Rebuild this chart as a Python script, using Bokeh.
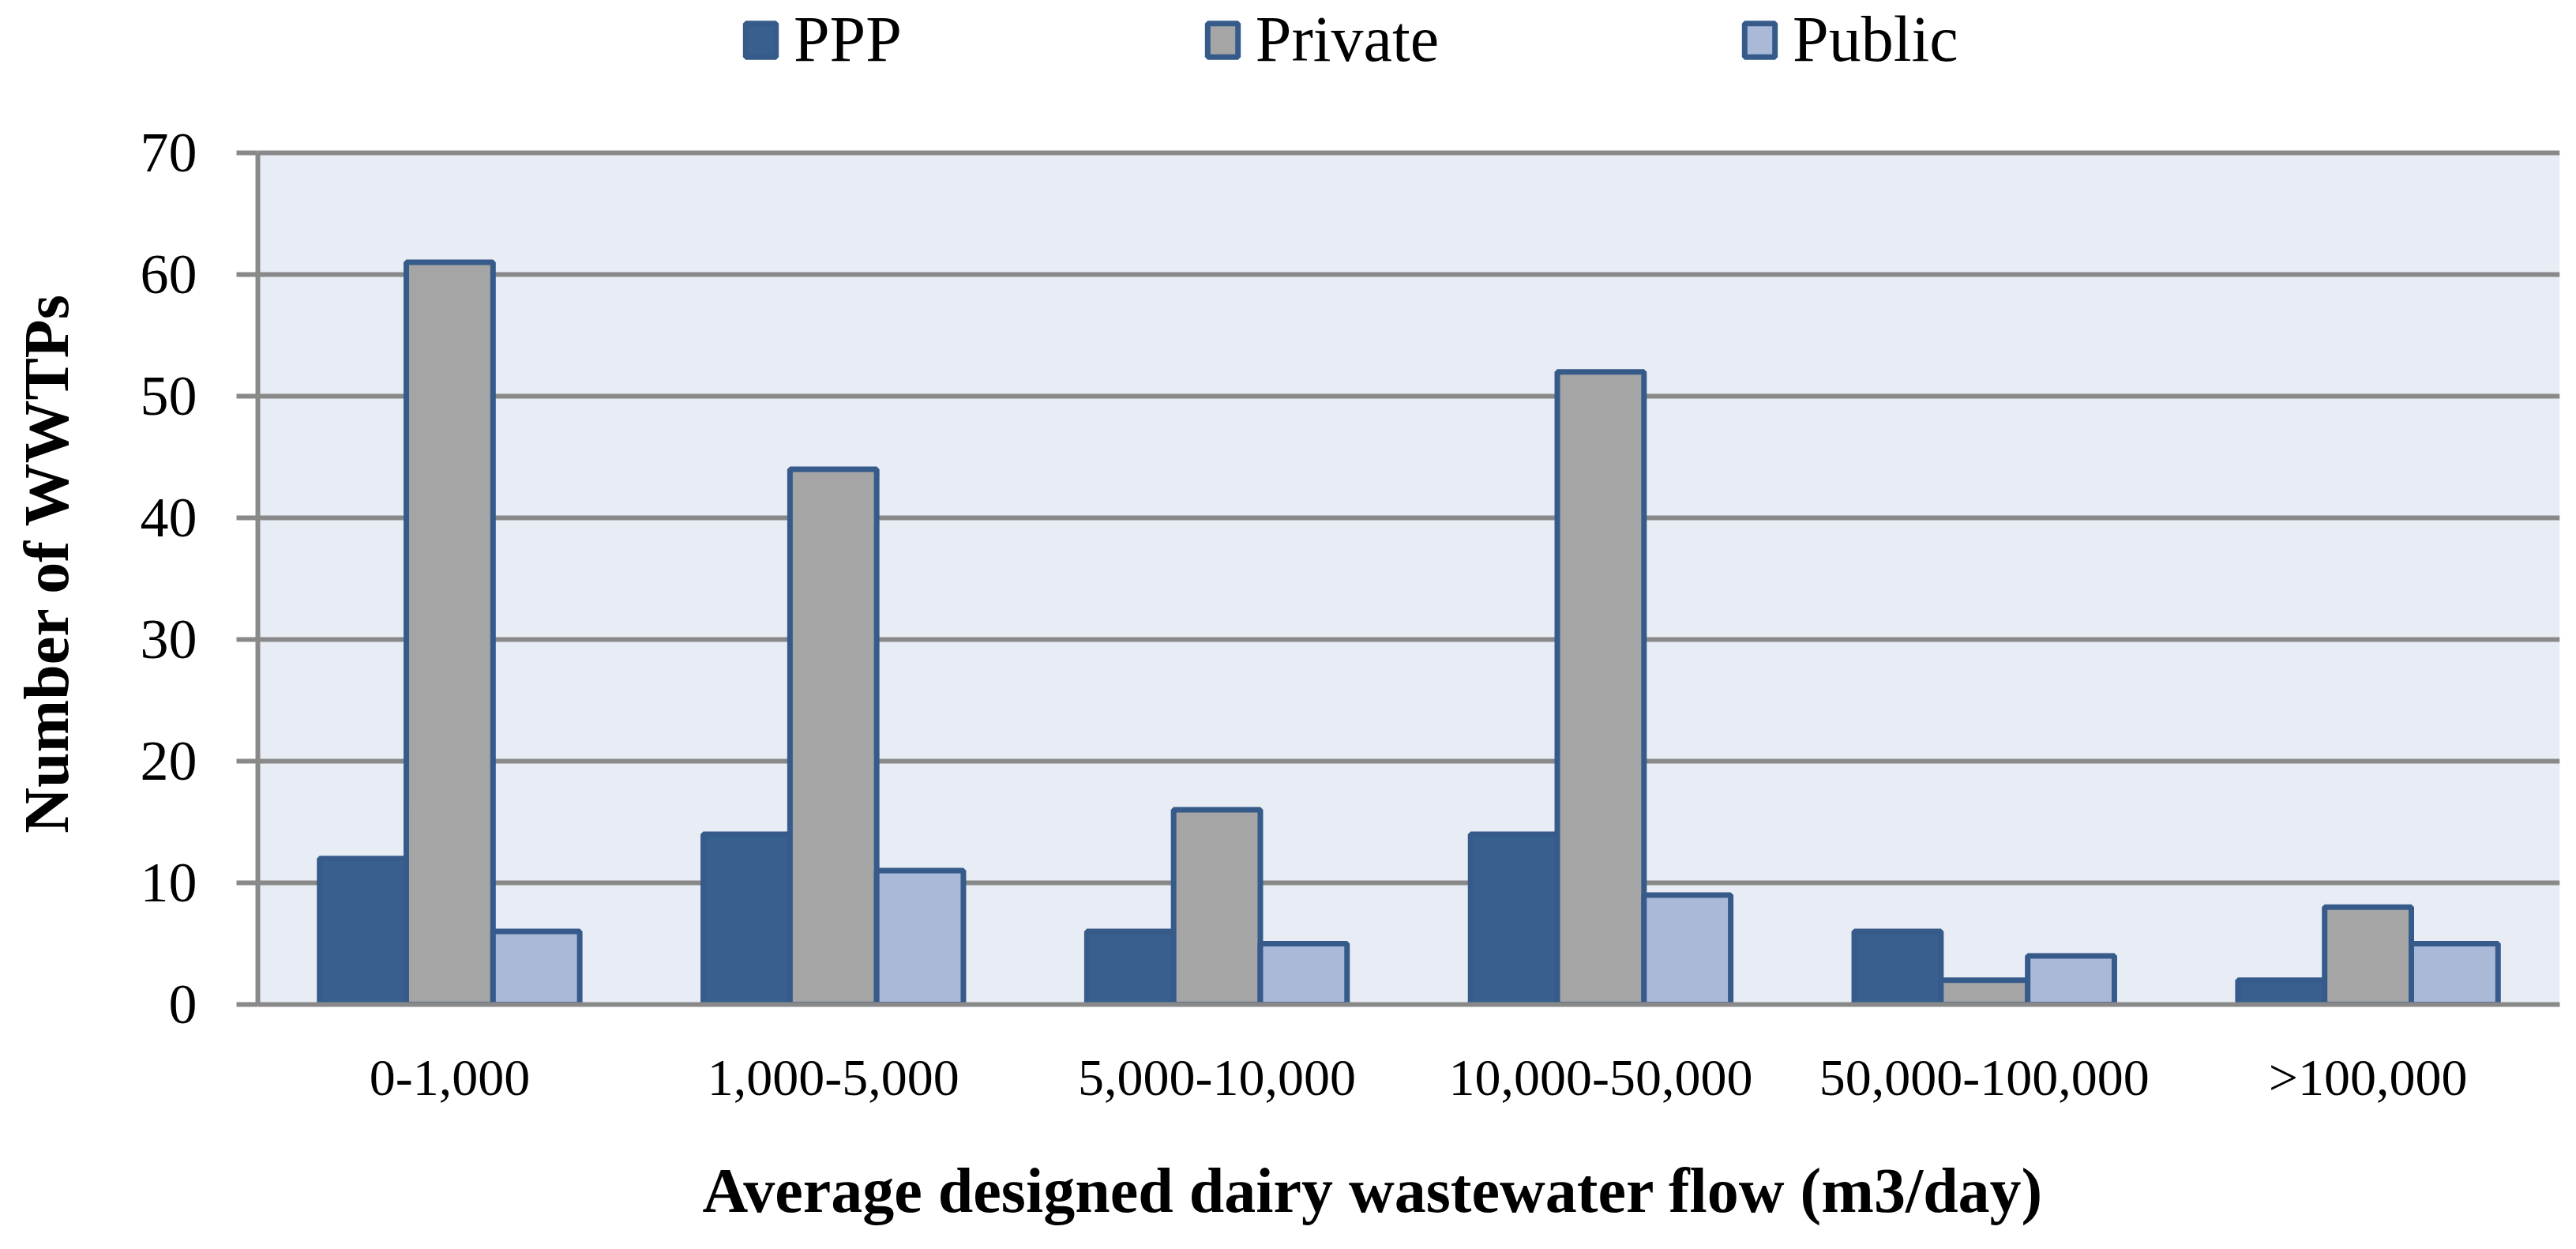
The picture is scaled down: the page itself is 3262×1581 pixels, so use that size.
from bokeh.plotting import figure
from bokeh.layouts import column
from bokeh.models import (ColumnDataSource, FactorRange, FixedTicker, Legend, LegendItem,
                          BoxAnnotation, Label)
from bokeh.transform import dodge
from bokeh.embed import file_html
from bokeh.resources import INLINE

categories = ["0-1,000", "1,000-5,000", "5,000-10,000", "10,000-50,000", "50,000-100,000", ">100,000"]
ppp = [12, 14, 6, 14, 6, 2]
private = [61, 44, 16, 52, 2, 8]
public = [6, 11, 5, 9, 4, 5]
series = ["PPP", "Private", "Public"]
y_ticks = [0, 10, 20, 30, 40, 50, 60, 70]
y_max = 70
x_title = "Average designed dairy wastewater flow (m3/day)"
y_title = "Number of WWTPs"

FONT = "Liberation Serif"
GRID = "#898989"
EDGE = "#365B8A"
FILLS = ["#37608F", "#A5A5A5", "#AAB9D7"]
W = 3246
bw = 0.226

source = ColumnDataSource(dict(cat=categories, PPP=ppp, Private=private, Public=public))

# ---------------- legend strip (top) ----------------
LEG_H = 140
lf = figure(width=W, height=LEG_H, x_range=FactorRange(*categories), y_range=(-2, -1),
            title=None, x_axis_location=None, y_axis_location=None, output_backend="svg",
            toolbar_location=None, min_border=0, frame_align=False)
lf.outline_line_color = None
lf.grid.visible = False
proxies = [lf.vbar(x=dodge("cat", off, range=lf.x_range), top=s, width=bw, source=source,
                   fill_color=c, line_color=EDGE, line_width=7, visible=False)
           for s, off, c in zip(series, (-bw, 0, bw), FILLS)]
legend = Legend(items=[LegendItem(label=s, renderers=[r]) for s, r in zip(series, proxies)],
                location=(939, 43), orientation="horizontal",
                glyph_width=48, glyph_height=53, label_height=53,
                label_standoff=18, padding=0, margin=0, spacing=382,
                border_line_color=None, background_fill_alpha=0,
                label_text_font=FONT, label_text_font_size="82px",
                label_text_color="black")
lf.add_layout(legend, "center")

# ---------------- main chart ----------------
FRAME_TOP = 13          # from top of this figure
FRAME_H = 1118          # frame height; 0..70 occupies the lower 1078 px
GRID_H = 1078
BOTTOM = 131
top_val = y_max * FRAME_H / GRID_H

p = figure(x_range=FactorRange(*categories), y_range=(0, top_val), title=None,
           width=W, height=FRAME_TOP + FRAME_H + BOTTOM, output_backend="svg",
           toolbar_location=None, min_border_left=326, min_border_right=5,
           min_border_top=FRAME_TOP, min_border_bottom=BOTTOM, frame_align=False)
p.outline_line_color = None
p.background_fill_color = "white"
p.border_fill_color = "white"

bg = BoxAnnotation(bottom=0, top=y_max, fill_color="#E8EDF5", fill_alpha=1.0,
                   line_color=None, level="image")
p.add_layout(bg)

for s, off, c in zip(series, (-bw, 0, bw), FILLS):
    p.vbar(x=dodge("cat", off, range=p.x_range), top=s, width=bw, source=source,
           fill_color=c, line_color=EDGE, line_width=7)

p.xgrid.grid_line_color = None
p.ygrid.grid_line_color = GRID
p.ygrid.grid_line_width = 6
p.yaxis.ticker = FixedTicker(ticks=y_ticks)

p.yaxis.bounds = (0, y_max)
p.yaxis.axis_line_color = GRID
p.yaxis.axis_line_width = 6
p.yaxis.major_tick_line_color = GRID
p.yaxis.major_tick_line_width = 6
p.yaxis.major_tick_out = 27
p.yaxis.major_tick_in = 0
p.yaxis.minor_tick_line_color = None
p.yaxis.major_label_standoff = 50
p.yaxis.major_label_text_font = FONT
p.yaxis.major_label_text_font_size = "72px"
p.yaxis.major_label_text_color = "black"
p.yaxis.axis_label = y_title
p.yaxis.axis_label_text_font = FONT
p.yaxis.axis_label_text_font_size = "80px"
p.yaxis.axis_label_text_font_style = "bold"
p.yaxis.axis_label_text_color = "black"
p.yaxis.axis_label_standoff = 72

p.xaxis.axis_line_color = GRID
p.xaxis.axis_line_width = 6
p.xaxis.major_tick_line_color = None
p.xaxis.major_tick_out = 0
p.xaxis.major_tick_in = 0
p.xaxis.minor_tick_line_color = None
p.xaxis.major_label_standoff = 55
p.xaxis.major_label_text_font = FONT
p.xaxis.major_label_text_font_size = "66px"
p.xaxis.major_label_text_color = "black"

# ---------------- x-axis title strip (bottom) ----------------
T_H = 171
tf = figure(width=W, height=T_H, x_range=(0, 1), y_range=(0, 1), title=None,
            x_axis_location=None, y_axis_location=None, output_backend="svg",
            toolbar_location=None, min_border=0, frame_align=False)
tf.outline_line_color = None
tf.grid.visible = False
tf.add_layout(Label(x=889, y=67, x_units="screen", y_units="screen", text=x_title,
                    text_font=FONT, text_font_size="80px", text_font_style="bold",
                    text_color="black", text_align="left", text_baseline="alphabetic"))

layout = column(lf, p, tf, spacing=0)
open("out.html", "w").write(file_html(layout, INLINE))
